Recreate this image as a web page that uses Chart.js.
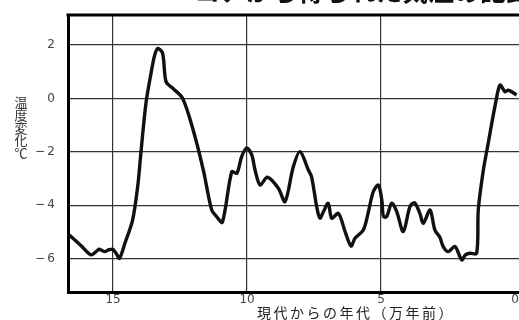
<!DOCTYPE html>
<html>
<head>
<meta charset="utf-8">
<script src="https://cdn.jsdelivr.net/npm/chart.js@4.4.1/dist/chart.umd.min.js"></script>
<style>
  html, body { margin: 0; padding: 0; background: #fff; overflow: hidden; width: 519px; height: 320px; }
  #wrap { position: absolute; left: 0; top: -20px; width: 560px; height: 340px; }
</style>
</head>
<body>
<div id="wrap"><canvas id="c" width="560" height="340"></canvas></div>
<script>
// Age before present (10,000 years) and temperature change (°C)
const ageTenThousandYears = [
  16.63, 16.2, 15.82, 15.6, 15.51, 15.32, 15.15, 15.01, 14.88, 14.76,
  14.55, 14.27, 14.08, 13.96, 13.77, 13.58, 13.45, 13.33, 13.15, 13.02,
  12.77, 12.40, 12.01, 11.63, 11.32, 11.15, 10.92, 10.57, 10.38, 10.20,
  10.01, 9.82, 9.70, 9.51, 9.24, 8.83, 8.58, 8.27, 8.02, 7.71,
  7.59, 7.40, 7.28, 7.15, 6.97, 6.84, 6.59, 6.34, 6.12, 5.97,
  5.66, 5.47, 5.29, 5.10, 4.97, 4.91, 4.79, 4.60, 4.41, 4.17,
  3.92, 3.75, 3.55, 3.42, 3.17, 2.99, 2.80, 2.68, 2.49, 2.24,
  1.99, 1.85, 1.68, 1.43, 1.37, 1.18, 1.00, 0.75, 0.56, 0.37,
  0.25, -0.06
];
const tempChange = [
  -5.11, -5.50, -5.85, -5.70, -5.64, -5.73, -5.66, -5.64, -5.80, -5.98,
  -5.40, -4.55, -3.30, -2.04, -0.17, 0.95, 1.60, 1.87, 1.69, 0.62,
  0.38, 0.00, -1.18, -2.68, -4.17, -4.40, -4.63, -2.74, -2.80, -2.18,
  -1.85, -2.12, -2.68, -3.24, -2.95, -3.36, -3.86, -2.55, -1.99, -2.68,
  -2.93, -4.05, -4.48, -4.24, -3.92, -4.48, -4.30, -4.98, -5.52, -5.23,
  -4.92, -4.24, -3.49, -3.24, -3.80, -4.42, -4.42, -3.92, -4.24, -4.98,
  -4.05, -3.90, -4.30, -4.67, -4.17, -4.92, -5.20, -5.54, -5.73, -5.54,
  -6.04, -5.85, -5.79, -5.79, -4.17, -2.68, -1.68, -0.31, 0.50, 0.25,
  0.31, 0.13
];
const xTickValues = [15, 10, 5, 0];
const yTickValues = [2, 0, -2, -4, -6];

const chartTitle = 'コアから得られた気温の記録';
const xAxisTitle = '現代からの年代（万年前）';
const yAxisTitle = ['温', '度', '変', '化', '℃'];

const points = ageTenThousandYears.map((x, i) => ({ x: x, y: tempChange[i] }));

// Frame top edge plus the titles
const frameAndText = {
  id: 'frameAndText',
  afterDraw(chart) {
    const { ctx, chartArea: a } = chart;
    ctx.save();
    ctx.strokeStyle = '#000';
    ctx.lineWidth = 3;
    ctx.beginPath();
    ctx.moveTo(a.left - 1.5, a.top);
    ctx.lineTo(a.right, a.top);
    ctx.stroke();

    ctx.fillStyle = '#111';
    ctx.font = 'bold 26px "Noto Sans CJK JP"';
    ctx.textAlign = 'right';
    ctx.textBaseline = 'bottom';
    ctx.fillText(chartTitle, a.right - 8, a.top - 11);

    ctx.fillStyle = '#333';
    ctx.font = '13px "Noto Sans CJK JP"';
    ctx.textAlign = 'center';
    ctx.textBaseline = 'middle';
    yAxisTitle.forEach((ch, i) => ctx.fillText(ch, 21, a.top + 87 + i * 12.8));

    ctx.fillStyle = '#222';
    ctx.font = '14px "Noto Sans CJK JP"';
    ctx.letterSpacing = '2.5px';
    ctx.fillText(xAxisTitle, 356, a.bottom + 21);
    ctx.restore();
  }
};

const tickLabel = v => (v < 0 ? '−\u2009' + Math.abs(v) : String(v));

new Chart(document.getElementById('c'), {
  type: 'line',
  data: {
    datasets: [{
      data: points,
      borderColor: '#111',
      borderWidth: 3.4,
      pointRadius: 0,
      tension: 0.3,
      fill: false
    }]
  },
  options: {
    responsive: false,
    devicePixelRatio: 1,
    animation: false,
    layout: { padding: { top: 35, left: 0, right: 20, bottom: 0 } },
    plugins: { legend: { display: false }, title: { display: false }, tooltip: { enabled: false } },
    scales: {
      x: {
        type: 'linear',
        reverse: true,
        min: -0.933,
        max: 16.68,
        afterBuildTicks: s => { s.ticks = xTickValues.map(v => ({ value: v })); },
        afterFit: s => { s.height = 28; },
        grid: {
          drawTicks: false,
          color: c => (c.tick && c.tick.value === 0 ? 'rgba(0,0,0,0)' : '#333'),
          lineWidth: 1.2
        },
        border: { display: true, color: '#000', width: 3 },
        ticks: {
          color: '#444',
          padding: 1,
          font: { family: 'DejaVu Sans', size: 12 },
          callback: v => tickLabel(v)
        }
      },
      y: {
        type: 'linear',
        min: -7.24,
        max: 3.12,
        afterBuildTicks: s => { s.ticks = yTickValues.map(v => ({ value: v })); },
        afterFit: s => { s.width = 68; },
        grid: { drawTicks: false, color: '#333', lineWidth: 1.2 },
        border: { display: true, color: '#000', width: 3 },
        ticks: {
          color: '#444',
          padding: 13,
          font: { family: 'DejaVu Sans', size: 12 },
          callback: v => tickLabel(v)
        }
      }
    }
  },
  plugins: [frameAndText]
});
</script>
</body>
</html>
